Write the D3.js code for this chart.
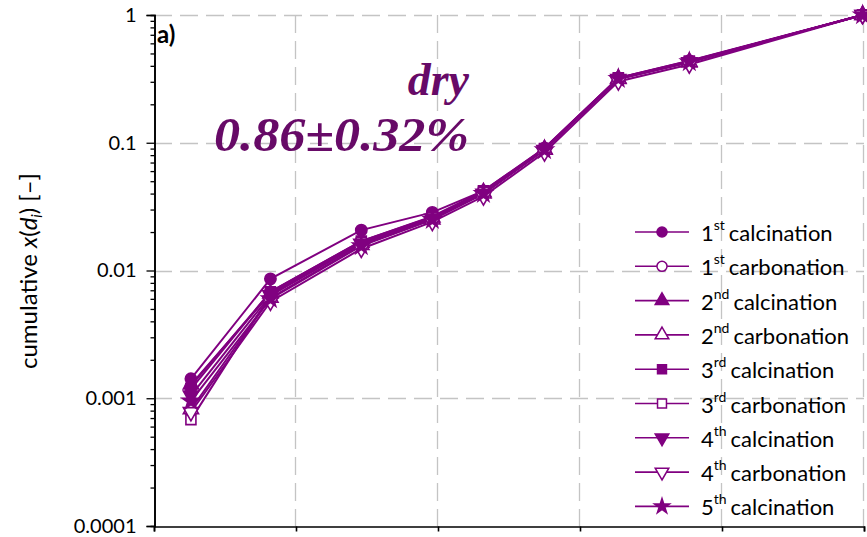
<!DOCTYPE html>
<html>
<head>
<meta charset="utf-8">
<script src="https://cdn.jsdelivr.net/npm/d3@7/dist/d3.min.js"></script>
<style>
  html, body { margin: 0; padding: 0; background: #fff; }
  svg { display: block; }
</style>
</head>
<body>
<svg id="chart" width="867" height="537"></svg>
<script>
// Cumulative size distribution, dry sample, over successive calcination / carbonation cycles
const sizeClasses = [0.26, 0.82, 1.46, 1.96, 2.32, 2.75, 3.27, 3.77, 4.99];

const calc1 = [0.00142, 0.0086, 0.0207, 0.0285, 0.042, 0.091, 0.322, 0.438, 1.0];
const carb1 = [0.00125, 0.0068, 0.0170, 0.0262, 0.041, 0.090, 0.320, 0.432, 1.0];
const calc2 = [0.00128, 0.0066, 0.0165, 0.0260, 0.041, 0.089, 0.318, 0.430, 1.0];
const carb2 = [0.00082, 0.0061, 0.0158, 0.0250, 0.040, 0.088, 0.315, 0.425, 1.0];
const calc3 = [0.00118, 0.0068, 0.0170, 0.0265, 0.042, 0.090, 0.322, 0.436, 1.0];
const carb3 = [0.00068, 0.0064, 0.0165, 0.0258, 0.041, 0.089, 0.318, 0.430, 1.0];
const calc4 = [0.00105, 0.0064, 0.0162, 0.0255, 0.040, 0.088, 0.316, 0.428, 1.0];
const carb4 = [0.00078, 0.0057, 0.0148, 0.0240, 0.038, 0.084, 0.302, 0.410, 1.0];
const calc5 = [0.00095, 0.0060, 0.0156, 0.0250, 0.040, 0.088, 0.318, 0.430, 1.0];

const seriesNames = [
  ["1", "st", "calcination"], ["1", "st", "carbonation"],
  ["2", "nd", "calcination"], ["2", "nd", "carbonation"],
  ["3", "rd", "calcination"], ["3", "rd", "carbonation"],
  ["4", "th", "calcination"], ["4", "th", "carbonation"],
  ["5", "th", "calcination"]
];
const seriesValues = [calc1, carb1, calc2, carb2, calc3, carb3, calc4, carb4, calc5];

const yTicks = [0.0001, 0.001, 0.01, 0.1, 1];
const yTickLabels = ["0.0001", "0.001", "0.01", "0.1", "1"];
const xTicks = [0, 1, 2, 3, 4, 5];

const purple = "#800080";
const textPurple = "#670a67";
const uiFont = "Lato, 'Open Sans', sans-serif";

// marker shape and fill per series
const markers = [
  { type: d3.symbolCircle, filled: true, rot: 0 },
  { type: d3.symbolCircle, filled: false, rot: 0 },
  { type: d3.symbolTriangle, filled: true, rot: 0 },
  { type: d3.symbolTriangle, filled: false, rot: 0 },
  { type: d3.symbolSquare, filled: true, rot: 0 },
  { type: d3.symbolSquare, filled: false, rot: 0 },
  { type: d3.symbolTriangle, filled: true, rot: 180 },
  { type: d3.symbolTriangle, filled: false, rot: 180 },
  { type: d3.symbolStar, filled: true, rot: 0 }
];

const svg = d3.select("#chart");
const x = d3.scaleLinear().domain([0, 5]).range([154, 864]);
const y = d3.scaleLog().domain([1e-4, 1]).range([526, 15]);

// grid
const grid = svg.append("g").attr("stroke", "#c4c4c4").attr("stroke-width", 1.3)
  .attr("stroke-dasharray", "18,8");
grid.selectAll("line.h").data(yTicks.slice(1)).join("line")
  .attr("x1", x(0)).attr("x2", x(5))
  .attr("y1", d => Math.round(y(d)) + 0.5).attr("y2", d => Math.round(y(d)) + 0.5);
grid.selectAll("line.v").data(xTicks.slice(1)).join("line")
  .attr("y1", y(1)).attr("y2", y(1e-4))
  .attr("x1", d => Math.round(x(d)) - 0.5).attr("x2", d => Math.round(x(d)) - 0.5);

// y axis with log minor ticks
const minorTicks = [];
for (let e = -4; e < 0; e++) {
  for (let m = 2; m <= 9; m++) minorTicks.push(m * Math.pow(10, e));
}
const yAxis = svg.append("g").attr("transform", "translate(154.5,0)");
yAxis.call(d3.axisLeft(y).tickValues(minorTicks).tickSize(4).tickFormat(""));
yAxis.append("g").call(d3.axisLeft(y).tickValues(yTicks).tickSize(8).tickFormat((d, i) => yTickLabels[i]).tickPadding(10));
yAxis.selectAll(".domain").attr("stroke", "#000").attr("stroke-width", 1.6);
yAxis.selectAll(".tick line").attr("stroke", "#000").attr("stroke-width", 1.3);
yAxis.selectAll(".tick text").attr("font-family", uiFont)
  .attr("font-size", 20).attr("fill", "#000");

// x axis
const xAxis = svg.append("g").attr("transform", "translate(0,526.5)")
  .call(d3.axisBottom(x).tickValues(xTicks).tickSize(5).tickFormat(""));
xAxis.selectAll(".domain").attr("stroke", "#000").attr("stroke-width", 1.6);
xAxis.selectAll(".tick line").attr("stroke", "#000").attr("stroke-width", 1.6);

// series lines
const line = d3.line().x((d, i) => x(sizeClasses[i])).y(d => y(d));
const plot = svg.append("g");
seriesValues.forEach((vals, s) => {
  plot.append("path").datum(vals).attr("d", line)
    .attr("fill", "none").attr("stroke", purple).attr("stroke-width", 2);
});
seriesValues.forEach((vals, s) => {
  const mk = markers[s];
  const sym = d3.symbol().type(mk.type).size(mk.type === d3.symbolStar ? 90 : 100);
  plot.selectAll(null).data(vals).join("path")
    .attr("d", sym)
    .attr("transform", (d, i) => `translate(${x(sizeClasses[i])},${y(d)}) rotate(${mk.rot})`)
    .attr("fill", mk.filled ? purple : "#fff")
    .attr("stroke", purple).attr("stroke-width", 1.6);
});

// y title
svg.append("text")
  .attr("transform", "translate(37,271) rotate(-90)")
  .attr("text-anchor", "middle")
  .attr("font-family", uiFont)
  .attr("font-size", 24).attr("fill", "#000")
  .call(t => {
    t.append("tspan").text("cumulative ");
    t.append("tspan").attr("font-style", "italic").text("x");
    t.append("tspan").text("(");
    t.append("tspan").attr("font-style", "italic").text("d");
    t.append("tspan").attr("font-style", "italic").attr("font-size", 15).attr("dy", 5).text("i");
    t.append("tspan").attr("dy", -5).text(") [\u2013]");
  });

// panel label
svg.append("text").attr("x", 157).attr("y", 43)
  .attr("font-family", uiFont).attr("font-weight", "bold")
  .attr("font-size", 24).attr("fill", "#000").text("a)");

// annotation
svg.append("text").attr("x", 469).attr("y", 95).attr("text-anchor", "end")
  .attr("font-family", "'Liberation Serif', serif").attr("font-weight", "bold")
  .attr("font-style", "italic").attr("font-size", 46).attr("fill", textPurple).text("dry");
svg.append("text").attr("x", 214).attr("y", 151)
  .attr("font-family", "'Liberation Serif', serif").attr("font-weight", "bold")
  .attr("font-style", "italic").attr("font-size", 48).attr("fill", textPurple)
  .attr("textLength", 255).attr("lengthAdjust", "spacingAndGlyphs")
  .text("0.86\u00b10.32%");

// legend
const legend = svg.append("g");
seriesNames.forEach((nm, s) => {
  const ly = 232 + s * 34.3;
  const g = legend.append("g").attr("transform", `translate(0,${ly})`);
  g.append("line").attr("x1", 635).attr("x2", 689).attr("y1", 0).attr("y2", 0)
    .attr("stroke", purple).attr("stroke-width", 1.6);
  const mk = markers[s];
  g.append("path")
    .attr("d", d3.symbol().type(mk.type).size(mk.type === d3.symbolStar ? 70 : 80))
    .attr("transform", `translate(662,0) rotate(${mk.rot})`)
    .attr("fill", mk.filled ? purple : "#fff")
    .attr("stroke", purple).attr("stroke-width", 1.5);
  const t = g.append("text").attr("x", 701).attr("y", 9)
    .attr("font-family", uiFont).attr("font-size", 22).attr("fill", "#000");
  t.append("tspan").text(nm[0]);
  t.append("tspan").attr("font-size", 14).attr("dy", -11).text(nm[1]);
  t.append("tspan").attr("dy", 11).attr("dx", 4).text(nm[2]);
});
</script>
</body>
</html>
